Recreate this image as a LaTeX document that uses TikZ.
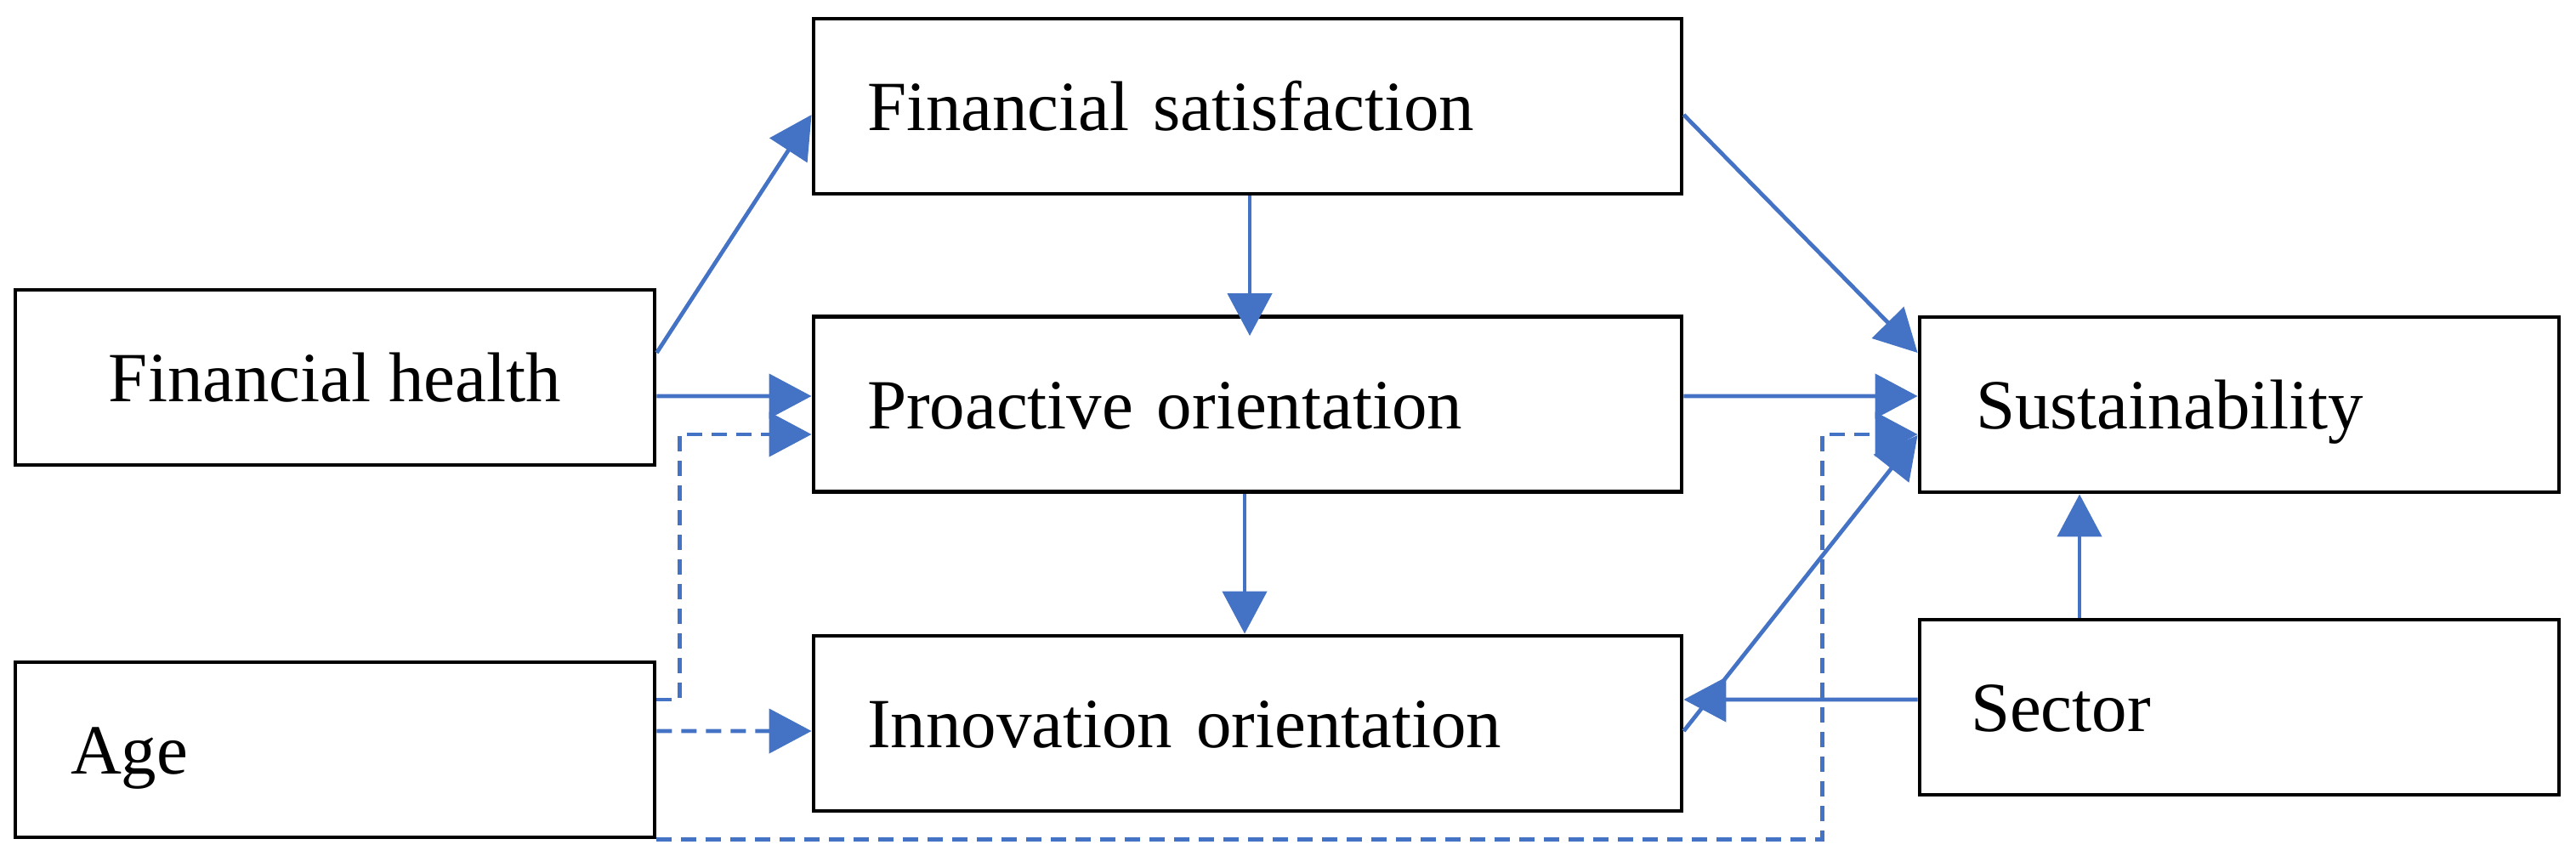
\documentclass[tikz,border=0pt]{standalone}
\usepackage{fontspec}
\setmainfont{Liberation Serif}
\usepackage{tikz}
\usetikzlibrary{arrows.meta}
\definecolor{linkblue}{HTML}{4472C4}
\tikzset{
    box/.style={draw, line width=1.4pt, minimum height=2.06cm, inner ysep=0pt,
        text height=0.57cm, text depth=0pt, font=\fontsize{23.6}{28}\selectfont},
    widebox/.style={box, minimum width=10.21cm, inner xsep=0.63cm, text width=8.95cm, align=left},
    smallbox/.style={box, minimum width=7.52cm}
}
\tikzset{
    link/.style={draw=linkblue, line width=1.35pt, -{Triangle[length=5mm, width=5.2mm]}},
    dlink/.style={link, dash pattern=on 1.8mm off 1.1mm}
}

\begin{document}
\begin{tikzpicture}
  \useasboundingbox (0cm, 0cm) rectangle (30.30cm, 10.06cm);

  \node[widebox] (fsat) at (14.675cm, 8.81cm) {Financial satisfaction};
  \node[widebox] (proact) at (14.675cm, 5.305cm) {Proactive orientation};
  \node[widebox] (innov) at (14.675cm, 1.55cm) {Innovation orientation};

  \node[smallbox] (fhealth) at (3.94cm, 5.62cm) {Financial health};
  \node[smallbox, inner xsep=0.65cm, text width=6.22cm, align=left] (age) at (3.94cm, 1.24cm) {Age};

  \node[smallbox, inner xsep=0.66cm, text width=6.20cm, align=left] (sustain) at (26.34cm, 5.30cm) {Sustainability};
  \node[smallbox, inner xsep=0.60cm, text width=6.32cm, align=left] (sector) at (26.34cm, 1.74cm) {Sector};

  \draw[link] ([yshift=2.9mm]fhealth.east) -- ([yshift=-1mm]fsat.west);
  \draw[link] ([yshift=-2.2mm]fhealth.east) -- ([yshift=0.95mm]proact.west);

  \draw[dlink] ([yshift=5.9mm]age.east) -- ++(0.27cm, 0) |- ([yshift=-3.55mm]proact.west);
  \draw[dlink] ([yshift=2.2mm]age.east) -- ([yshift=-0.9mm]innov.west);
  \draw[dlink] (age.south east) -- ++(13.71cm, 0) |- ([yshift=-3.5mm]sustain.west);

  \draw[link, shorten >=-2.5mm] ([xshift=0.25mm]fsat.south) -- ([xshift=0.25mm]proact.north);
  \draw[link] ([xshift=-0.35mm]proact.south) -- ([xshift=-0.35mm]innov.north);

  \draw[link] ([yshift=-1mm]fsat.east) -- ([yshift=6.1mm]sustain.west);
  \draw[link] ([yshift=0.95mm]proact.east) -- ([yshift=1mm]sustain.west);
  \draw[link] ([yshift=-0.9mm]innov.east) -- ([yshift=-3.6mm]sustain.west);

  \draw[link] ([yshift=0.9mm]sector.west) -- ([yshift=2.8mm]innov.east);
  \draw[link] ([xshift=-18.8mm]sector.north) -- ([xshift=-18.8mm]sustain.south);

\end{tikzpicture}
\end{document}
